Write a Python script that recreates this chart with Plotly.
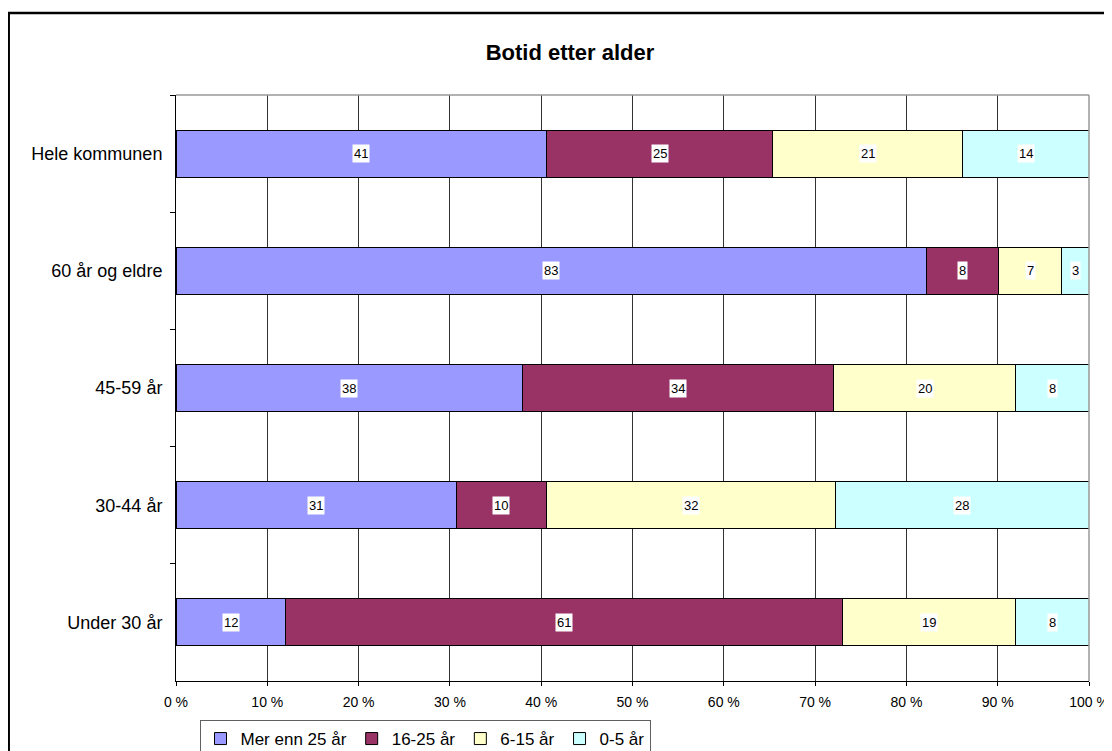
import plotly.graph_objects as go

categories = ["Hele kommunen", "60 år og eldre", "45-59 år", "30-44 år", "Under 30 år"]
series_names = ["Mer enn 25 år", "16-25 år", "6-15 år", "0-5 år"]
mer_enn_25 = [41, 83, 38, 31, 12]
aar_16_25 = [25, 8, 34, 10, 61]
aar_6_15 = [21, 7, 20, 32, 19]
aar_0_5 = [14, 3, 8, 28, 8]
x_ticks = [0, 10, 20, 30, 40, 50, 60, 70, 80, 90, 100]

series_values = [mer_enn_25, aar_16_25, aar_6_15, aar_0_5]
colors = ["#9999FF", "#993366", "#FFFFCC", "#CCFFFF"]
FONT = "Liberation Sans, Arial, sans-serif"

W, H = 1104, 743
L, R, T, B = 168, 23, 87, 70
plot_w = W - L - R
plot_h = H - T - B

fig = go.Figure()
for name, vals, col in zip(series_names, series_values, colors):
    fig.add_trace(go.Bar(
        y=categories, x=vals, name=name, orientation="h",
        marker=dict(color=col, line=dict(color="black", width=1)),
        hoverinfo="x+y+name",
    ))

# data labels with white background, placed at the centre of each normalised segment
totals = [sum(v[i] for v in series_values) for i in range(len(categories))]
for i, cat in enumerate(categories):
    cum = 0.0
    for vals in series_values:
        share = vals[i] / totals[i] * 100
        fig.add_annotation(
            x=cum + share / 2, y=cat, xref="x", yref="y",
            text=str(vals[i]), showarrow=False,
            font=dict(family=FONT, size=13, color="black"),
            bgcolor="white", borderpad=1,
        )
        cum += share

fig.update_layout(
    barmode="stack", barnorm="percent", bargap=0.6,
    width=W, height=H,
    margin=dict(l=L, r=R, t=T, b=B, autoexpand=False),
    paper_bgcolor="white", plot_bgcolor="white",
    font=dict(family=FONT, color="black"),
    title=dict(text="<b>Botid etter alder</b>", x=562 / W, xanchor="center",
               y=1 - 44 / H, yanchor="middle", yref="container",
               font=dict(family=FONT, size=22, color="black")),
    showlegend=True,
    legend=dict(orientation="h", x=(417 - L) / plot_w, xanchor="center",
                y=-(712 - (T + plot_h)) / plot_h, yanchor="top",
                font=dict(family=FONT, size=17, color="black"),
                bordercolor="#606060", borderwidth=1, bgcolor="white",
                itemwidth=30, traceorder="normal"),
    xaxis=dict(range=[0, 100], tickvals=x_ticks, ticktext=[f"{t} %" for t in x_ticks],
               showgrid=True, gridcolor="#333333", gridwidth=1,
               showline=True, linecolor="black", linewidth=1,
               ticks="outside", ticklen=4, tickcolor="black",
               tickfont=dict(family=FONT, size=14, color="black"),
               ticklabelstandoff=4, zeroline=False, fixedrange=True, automargin=False),
    yaxis=dict(autorange="reversed", type="category",
               showgrid=False, showline=True, linecolor="black", linewidth=1,
               ticks="outside", tickson="boundaries", ticklen=5, tickcolor="black",
               tickfont=dict(family=FONT, size=18, color="black"),
               ticklabelstandoff=9, fixedrange=True, automargin=False),
    shapes=[
        # grey top and right plot-area border
        dict(type="line", xref="paper", yref="paper", x0=0, x1=1, y0=1, y1=1,
             line=dict(color="#999999", width=1.5)),
        dict(type="line", xref="paper", yref="paper", x0=1, x1=1, y0=0, y1=1,
             line=dict(color="#999999", width=1.5)),
        # outer chart frame
        dict(type="rect", xref="paper", yref="paper",
             x0=(0.7 - L) / plot_w, x1=1.1, y0=-0.3, y1=1 + (T - 5) / plot_h,
             line=dict(color="black", width=2.5), fillcolor="rgba(0,0,0,0)", layer="below"),
    ],
)

fig.write_html("out.html")
